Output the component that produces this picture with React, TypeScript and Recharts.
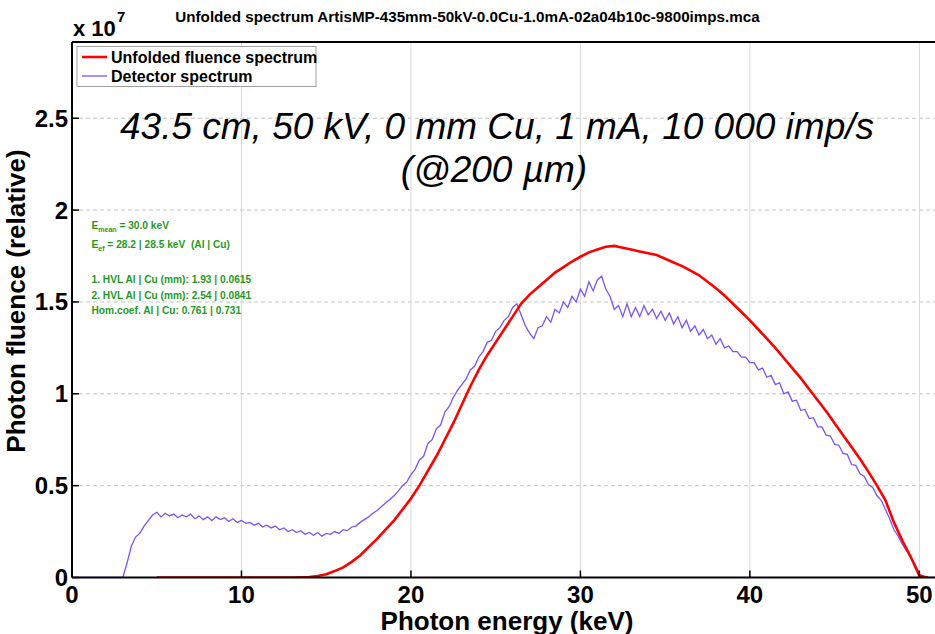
import React from 'react';
import { LineChart, Line, XAxis, YAxis, CartesianGrid } from 'recharts';

// Detector spectrum: bins of 0.25 keV starting at 0 keV (values in units of 1e7)
const DETECTOR_START = 0;
const DETECTOR_STEP = 0.25;
const detectorValues = [
  0, 0, 0, 0,
  0, 0, 0, 0,
  0, 0, 0, 0,
  0, 0.08, 0.17, 0.22,
  0.24, 0.28, 0.31, 0.34,
  0.355, 0.33, 0.35, 0.335,
  0.345, 0.325, 0.34, 0.33,
  0.345, 0.32, 0.335, 0.315,
  0.33, 0.31, 0.33, 0.315,
  0.325, 0.305, 0.32, 0.3,
  0.31, 0.295, 0.3, 0.285,
  0.295, 0.275, 0.285, 0.27,
  0.28, 0.26, 0.27, 0.25,
  0.26, 0.245, 0.255, 0.235,
  0.245, 0.23, 0.245, 0.225,
  0.24, 0.235, 0.25, 0.24,
  0.26, 0.255, 0.275, 0.28,
  0.3, 0.315, 0.33, 0.35,
  0.365, 0.385, 0.405, 0.425,
  0.445, 0.47, 0.5, 0.52,
  0.56, 0.59, 0.64, 0.66,
  0.73, 0.75, 0.81, 0.83,
  0.9, 0.93, 0.98, 1.02,
  1.05, 1.08, 1.13, 1.15,
  1.2, 1.23, 1.28, 1.29,
  1.34, 1.36, 1.4, 1.42,
  1.47, 1.49, 1.43, 1.37,
  1.33, 1.3, 1.36, 1.37,
  1.42, 1.39, 1.46, 1.44,
  1.5, 1.47, 1.53, 1.5,
  1.57, 1.53, 1.61, 1.56,
  1.62, 1.64, 1.57, 1.53,
  1.46, 1.48, 1.42, 1.49,
  1.42, 1.47, 1.42, 1.48,
  1.43, 1.46, 1.41, 1.45,
  1.4, 1.44, 1.38, 1.42,
  1.36, 1.4, 1.34, 1.37,
  1.32, 1.35, 1.3, 1.32,
  1.27, 1.3, 1.25, 1.26,
  1.23, 1.23, 1.2, 1.2,
  1.17, 1.17, 1.13, 1.14,
  1.09, 1.1, 1.05, 1.06,
  1.0, 1.01, 0.96, 0.965,
  0.91, 0.915, 0.865, 0.87,
  0.82, 0.82, 0.775, 0.77,
  0.725, 0.72, 0.675, 0.67,
  0.615, 0.61, 0.565, 0.55,
  0.505, 0.49, 0.445, 0.42,
  0.37, 0.32, 0.26, 0.225,
  0.18, 0.145, 0.11, 0.07,
  0.02, 0.005, 0, 0,
  0,
];

// Unfolded fluence spectrum: bins of 0.5 keV starting at 5 keV (units of 1e7)
const UNFOLDED_START = 5;
const UNFOLDED_STEP = 0.5;
const unfoldedValues = [
  0, 0,
  0, 0,
  0, 0,
  0, 0,
  0, 0,
  0, 0,
  0, 0,
  0, 0,
  0, 0.001,
  0.003, 0.008,
  0.018, 0.035,
  0.055, 0.085,
  0.12, 0.165,
  0.21, 0.26,
  0.31, 0.37,
  0.43, 0.5,
  0.58, 0.66,
  0.75, 0.84,
  0.94, 1.04,
  1.13, 1.21,
  1.28, 1.35,
  1.42, 1.49,
  1.54, 1.58,
  1.62, 1.66,
  1.69, 1.72,
  1.746, 1.77,
  1.785, 1.8,
  1.805, 1.795,
  1.785, 1.775,
  1.765, 1.755,
  1.735, 1.715,
  1.695, 1.67,
  1.645, 1.61,
  1.575, 1.535,
  1.49, 1.445,
  1.4, 1.35,
  1.3, 1.25,
  1.195, 1.14,
  1.085, 1.025,
  0.965, 0.905,
  0.84, 0.775,
  0.71, 0.645,
  0.575, 0.5,
  0.42, 0.3,
  0.2, 0.11,
  0.01, 0,
];

const xTicks = [0, 10, 20, 30, 40, 50];
const yTicks = [0, 0.5, 1, 1.5, 2, 2.5];
const X_DOMAIN = [0, 51];
const Y_DOMAIN = [0, 2.915];

const TITLE = 'Unfolded spectrum ArtisMP-435mm-50kV-0.0Cu-1.0mA-02a04b10c-9800imps.mca';
const SERIES_NAMES = ['Unfolded fluence spectrum', 'Detector spectrum'];
const ANNOTATION_LINES = ['43.5 cm, 50 kV, 0 mm Cu, 1 mA, 10 000 imp/s', '(@200 µm)'];
const X_LABEL = 'Photon energy (keV)';
const Y_LABEL = 'Photon fluence (relative)';

const detectorData = detectorValues.map((v, i) => ({ e: DETECTOR_START + i * DETECTOR_STEP, v }));
const unfoldedData = unfoldedValues.map((v, i) => ({ e: UNFOLDED_START + i * UNFOLDED_STEP, v }));

// vertical grid lines built from the tick array and the y domain
const verticalGrid = xTicks.filter((t) => t > 0).map((t) => [{ e: t, v: Y_DOMAIN[0] }, { e: t, v: Y_DOMAIN[1] }]);

const FONT = '"Liberation Sans", Arial, Helvetica, sans-serif';
const RED = '#ff0000';
const PURPLE = '#7755ff';
const GREEN = '#1f9a1f';
const GRID = '#c4c4c4';
const GRID_SOLID = '#d8d8d8';

export default function App() {
  const tickStyle = { fill: '#000', fontSize: 24, fontWeight: 'bold', fontFamily: FONT };
  const axisLine = { stroke: '#000', strokeWidth: 2 };
  const tickLine = { stroke: '#000', strokeWidth: 1.5 };
  return (
    <div style={{ position: 'absolute', left: 0, top: 0, width: 935, height: 634, overflow: 'hidden', background: '#fff' }}>
      <LineChart width={940} height={634} margin={{ top: 41, right: 2.7, bottom: 0, left: 0 }}>
        <CartesianGrid xAxisId="b" yAxisId="l" vertical={false} stroke={GRID} strokeDasharray="4 3" />
        <XAxis xAxisId="b" type="number" dataKey="e" domain={X_DOMAIN} ticks={xTicks} allowDataOverflow
          height={56.5} tickSize={-7} tickMargin={15} interval={0}
          axisLine={axisLine} tickLine={tickLine} tick={tickStyle} />
        <XAxis xAxisId="t" orientation="top" type="number" dataKey="e" domain={X_DOMAIN} ticks={xTicks} allowDataOverflow
          height={1} tickSize={-7} interval={0} axisLine={axisLine} tickLine={tickLine} tick={false} />
        <YAxis yAxisId="l" type="number" domain={Y_DOMAIN} ticks={yTicks} allowDataOverflow
          width={72} tickSize={-7} tickMargin={11} interval={0}
          axisLine={axisLine} tickLine={tickLine} tick={tickStyle} />
        <YAxis yAxisId="r" orientation="right" type="number" domain={Y_DOMAIN} ticks={yTicks} allowDataOverflow
          width={1} tickSize={-7} interval={0} axisLine={axisLine} tickLine={tickLine} tick={false} />
        {verticalGrid.map((d, i) => (
          <Line key={'gx' + i} name={'gridx' + i} xAxisId="b" yAxisId="l" data={d} dataKey="v" type="linear" stroke={GRID_SOLID}
            strokeWidth={1} dot={false} activeDot={false} isAnimationActive={false} />
        ))}
        <Line name="detector" xAxisId="b" yAxisId="l" data={detectorData} dataKey="v" type="linear" stroke={PURPLE}
          strokeWidth={1.3} dot={false} activeDot={false} isAnimationActive={false} />
        <Line name="unfolded" xAxisId="b" yAxisId="l" data={unfoldedData} dataKey="v" type="linear" stroke={RED}
          strokeWidth={2.6} dot={false} activeDot={false} isAnimationActive={false} />
      </LineChart>
      <svg width={935} height={634} style={{ position: 'absolute', left: 0, top: 0, pointerEvents: 'none' }}
        fontFamily={FONT}>
        <text x={467.5} y={21.5} textAnchor="middle" fontSize={15.2} fontWeight="bold" fill="#000">{TITLE}</text>
        <text x={73} y={35.5} fontSize={22} fontWeight="bold" fill="#000">x 10</text>
        <text x={117} y={22} fontSize={15} fontWeight="bold" fill="#000">7</text>

        <rect x={77} y={46.5} width={239} height={40} fill="#fff" stroke="#a0a0a0" strokeWidth={1} />
        <line x1={82} y1={57} x2={107} y2={57} stroke={RED} strokeWidth={2.6} />
        <line x1={82} y1={76} x2={107} y2={76} stroke={PURPLE} strokeWidth={1.3} />
        <text x={111} y={63} fontSize={16} fontWeight="bold" fill="#000">{SERIES_NAMES[0]}</text>
        <text x={111} y={81.5} fontSize={16} fontWeight="bold" fill="#000">{SERIES_NAMES[1]}</text>

        <text x={497} y={139} textAnchor="middle" fontSize={37} fontStyle="italic" fill="#000">{ANNOTATION_LINES[0]}</text>
        <text x={494} y={182} textAnchor="middle" fontSize={37} fontStyle="italic" fill="#000">{ANNOTATION_LINES[1]}</text>

        <g fontSize={10.2} fontWeight="bold" fill={GREEN} style={{ whiteSpace: 'pre' }}>
          <text x={91.5} y={229}>E<tspan fontSize={7} dy={3}>mean</tspan><tspan dy={-3}>{' = 30.0 keV'}</tspan></text>
          <text x={91.5} y={248}>E<tspan fontSize={7} dy={3}>ef</tspan><tspan dy={-3}>{' = 28.2 | 28.5 keV\u00a0\u00a0(Al | Cu)'}</tspan></text>
          <text x={91.5} y={283}>1. HVL Al | Cu (mm): 1.93 | 0.0615</text>
          <text x={91.5} y={299}>2. HVL Al | Cu (mm): 2.54 | 0.0841</text>
          <text x={91.5} y={314}>Hom.coef. Al | Cu: 0.761 | 0.731</text>
        </g>

        <text x={507} y={630} textAnchor="middle" fontSize={26} fontWeight="bold" fill="#000">{X_LABEL}</text>
        <text x={0} y={0} transform="translate(24.5 301) rotate(-90)" textAnchor="middle" fontSize={26} fontWeight="bold" fill="#000">{Y_LABEL}</text>
      </svg>
    </div>
  );
}
